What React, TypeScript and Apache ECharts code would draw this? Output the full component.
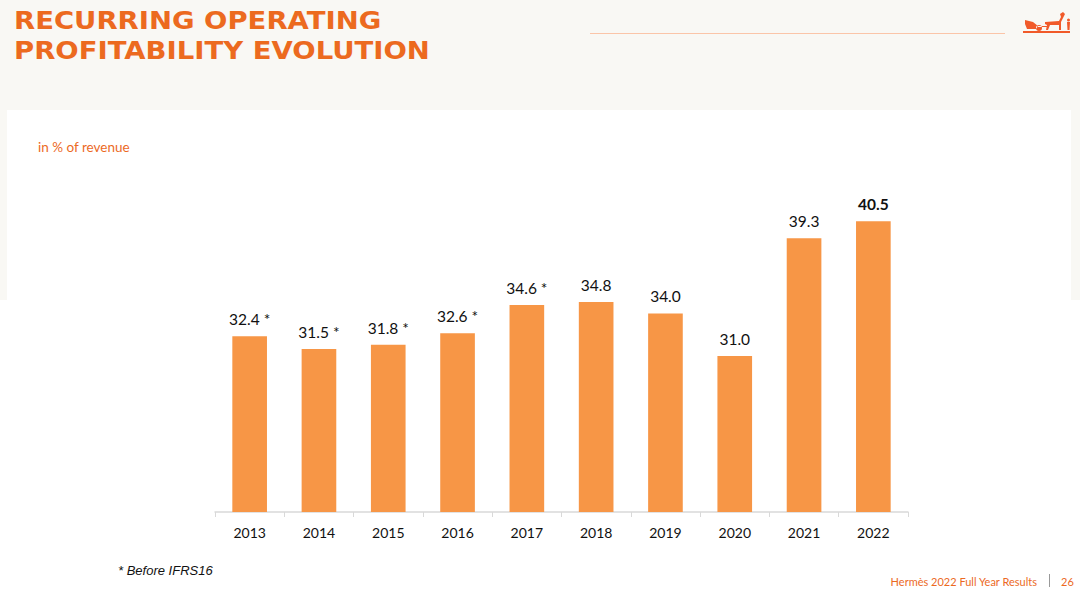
import React, { useEffect, useRef } from "react";
import * as echarts from "echarts";

const years = ["2013", "2014", "2015", "2016", "2017", "2018", "2019", "2020", "2021", "2022"];
const margins = [32.4, 31.5, 31.8, 32.6, 34.6, 34.8, 34.0, 31.0, 39.3, 40.5];
const beforeIfrs16 = [true, true, true, true, true, false, false, false, false, false];

const titleText = "RECURRING OPERATING\nPROFITABILITY EVOLUTION";
const subtitleText = "in % of revenue";
const footnoteText = "* Before IFRS16";
const footerText = "Hermès 2022 Full Year Results";
const pageNumber = "26";

const ORANGE = "#ec6a1f";
const BAR = "#f79646";

const logoPath =
  "M0 19 L47 19 L47 21 L0 21 Z " +
  "M2 8 L10 10 L15 14 L13 17 L4 17 L2 12 Z " +
  "M13 16 A3 3 0 1 0 19 16 A3 3 0 1 0 13 16 Z " +
  "M14 14 L24 14 L24 15 L14 15 Z " +
  "M22 10 L36 9 L38 5 L37 2 L40 0 L42 2 L40 6 L38 10 L38 18 L36 18 L36 13 L27 13 L25 18 L23 18 L24 13 L22 12 Z " +
  "M44 8 A1.5 1.5 0 1 0 47 8 A1.5 1.5 0 1 0 44 8 Z " +
  "M44 10 L47 10 L46.5 18 L44.5 18 Z";

let registered = false;

export default function App() {
  const ref = useRef<HTMLDivElement>(null);
  useEffect(() => {
    document.body.style.margin = "0";
    if (!registered) {
      echarts.graphic.registerShape("logo", echarts.graphic.extendPath(logoPath, {}));
      registered = true;
    }
    const chart = echarts.init(ref.current!, null, { renderer: "svg" });
    const data = margins.map((v, i) => {
      const item: any = { value: v };
      if (i === margins.length - 1) {
        item.label = { fontWeight: "bold" };
      }
      return item;
    });
    chart.setOption({
      animation: false,
      backgroundColor: "#ffffff",
      grid: { left: 215, right: 172, top: 200, bottom: 87 },
      xAxis: {
        type: "category",
        data: years,
        axisLine: { lineStyle: { color: "#d9d9d9", width: 1.5 } },
        axisTick: { show: true, length: 5, lineStyle: { color: "#d9d9d9" } },
        axisLabel: {
          color: "#111111",
          fontSize: 14,
          fontFamily: "Lato",
          margin: 13,
        },
      },
      yAxis: {
        type: "value",
        min: 20,
        max: 42,
        show: false,
        splitLine: { show: false },
      },
      series: [
        {
          type: "bar",
          data,
          barWidth: "50%",
          itemStyle: { color: BAR },
          label: {
            show: true,
            position: "top",
            distance: 9,
            color: "#111111",
            fontSize: 15.5,
            fontFamily: "Lato",
            formatter: (p: any) =>
              p.value.toFixed(1) + (beforeIfrs16[p.dataIndex] ? " *" : ""),
          },
        },
      ],
      graphic: [
        { type: "rect", z: -10, silent: true, shape: { x: 0, y: 0, width: 1080, height: 300 }, style: { fill: "#f9f8f4" } },
        { type: "rect", z: -9, silent: true, shape: { x: 7, y: 110, width: 1064, height: 190 }, style: { fill: "#ffffff" } },
        {
          type: "text",
          x: 14,
          y: 5,
          scaleX: 1.1,
          originX: 0,
          style: {
            text: titleText,
            fill: ORANGE,
            font: "bold 25px 'DejaVu Sans'",
            lineHeight: 30,
          },
        },
        { type: "line", shape: { x1: 590, y1: 33.5, x2: 1005, y2: 33.5 }, style: { stroke: "#fbc5a8", lineWidth: 1 } },
        { type: "logo", x: 1023, y: 12, scaleX: 1, scaleY: 1, style: { fill: "#f15a29" } },
        {
          type: "text",
          x: 38,
          y: 147,
          style: { text: subtitleText, fill: ORANGE, font: "13.5px Lato", verticalAlign: "middle" },
        },
        {
          type: "text",
          x: 118,
          y: 570,
          style: { text: footnoteText, fill: "#111111", font: "italic 13px 'Liberation Sans Narrow', 'Liberation Sans'", verticalAlign: "middle" },
        },
        {
          type: "text",
          x: 1037,
          y: 581,
          style: { text: footerText, fill: ORANGE, font: "11px 'Liberation Sans Narrow', Lato", align: "right", verticalAlign: "middle" },
        },
        { type: "line", shape: { x1: 1049.5, y1: 574, x2: 1049.5, y2: 587 }, style: { stroke: "#999999", lineWidth: 1 } },
        {
          type: "text",
          x: 1061,
          y: 581,
          style: { text: pageNumber, fill: ORANGE, font: "11px 'Liberation Sans Narrow', Lato", verticalAlign: "middle" },
        },
      ],
    });
    return () => chart.dispose();
  }, []);
  return <div ref={ref} style={{ width: 1080, height: 599 }} />;
}
